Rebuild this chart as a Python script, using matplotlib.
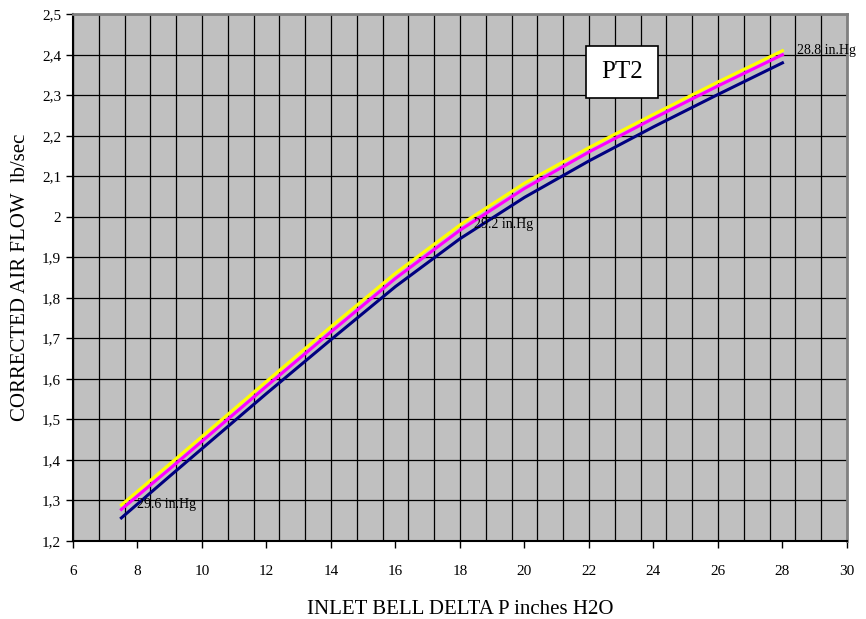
import matplotlib.pyplot as plt
import numpy as np

# inlet bell delta P (inches H2O) and corrected air flow (lb/sec)
delta_p = [7.5, 9, 10, 12, 14, 16, 18, 20, 22, 24, 26, 28]
flow_296 = [1.257, 1.360, 1.428, 1.564, 1.697, 1.828, 1.946, 2.048, 2.138, 2.222, 2.302, 2.380]
flow_292 = [1.278, 1.378, 1.446, 1.582, 1.716, 1.848, 1.967, 2.070, 2.160, 2.243, 2.323, 2.400]
flow_288 = [1.289, 1.390, 1.458, 1.594, 1.729, 1.861, 1.980, 2.083, 2.171, 2.253, 2.333, 2.410]

xticks = np.arange(6, 31, 2)
yticks = np.round(np.arange(1.2, 2.51, 0.1), 1)
ytick_labels = [('%g' % v).replace('.', ',') for v in yticks]

plt.rcParams['font.family'] = ['Liberation Serif', 'DejaVu Serif']

fig = plt.figure(figsize=(8.66, 6.19), dpi=100)
ax = fig.add_axes([0.0843, 0.126, 0.8937, 0.851])
ax.set_facecolor('#C0C0C0')

# grid: vertical lines every 0.8, horizontal every 0.1
for gx in np.arange(6, 30.01, 0.8):
    ax.axvline(gx, color='black', linewidth=0.9, zorder=1)
for gy in yticks:
    ax.axhline(gy, color='black', linewidth=0.9, zorder=1)

ax.plot(delta_p, flow_296, color='#000080', linewidth=2.2, zorder=3)
ax.plot(delta_p, flow_292, color='#FF00FF', linewidth=2.2, zorder=4)
ax.plot(delta_p, flow_288, color='#FFFF00', linewidth=2.2, zorder=3)

ax.text(8.0, 1.289, '29.6 in.Hg', fontsize=10, va='center', ha='left', zorder=5)
ax.text(18.45, 1.98, '29.2 in.Hg', fontsize=10, va='center', ha='left', zorder=5)
ax.text(28.45, 2.41, '28.8 in.Hg', fontsize=10, va='center', ha='left', zorder=5,
        clip_on=False)

ax.text(23.02, 2.357, 'PT2', fontsize=18, ha='center', va='center', zorder=6,
        bbox=dict(boxstyle='square,pad=0.6', facecolor='white', edgecolor='black',
                  linewidth=1.2))

ax.set_xlim(6, 30)
ax.set_ylim(1.2, 2.5)
ax.set_xticks(xticks)
ax.set_yticks(yticks)
ax.set_yticklabels(ytick_labels)
ax.tick_params(axis='both', direction='out', length=5, width=1, labelsize=11,
               colors='black')
ax.tick_params(axis='x', pad=12)

for side in ['top', 'right']:
    ax.spines[side].set_color('#808080')
    ax.spines[side].set_linewidth(2)
for side in ['left', 'bottom']:
    ax.spines[side].set_color('black')
    ax.spines[side].set_linewidth(1.5)

ax.set_xlabel('INLET BELL DELTA P inches H2O', fontsize=15, labelpad=16)
ax.set_ylabel('CORRECTED AIR FLOW  lb/sec', fontsize=15, labelpad=9)

plt.savefig('out.png', dpi=100)
